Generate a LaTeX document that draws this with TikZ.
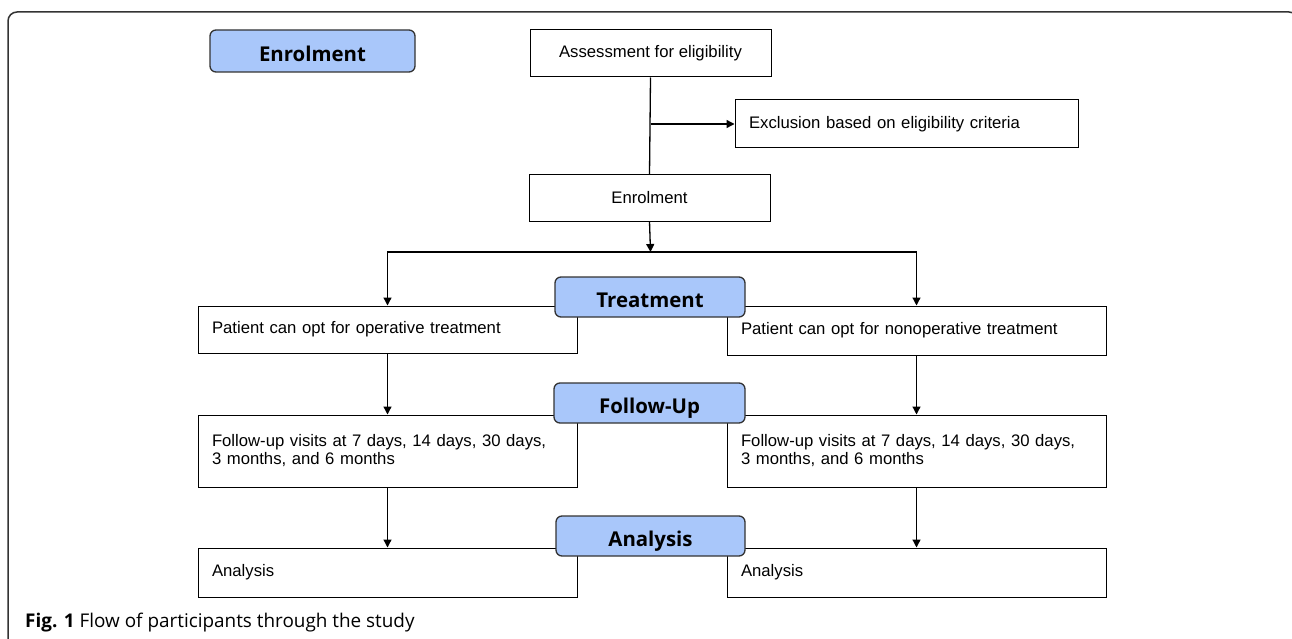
\documentclass[tikz,border=0pt]{standalone}
\usepackage{fontspec}
\setmainfont{Liberation Sans}
\newfontfamily\labelfont{Open Sans}
\usetikzlibrary{arrows.meta}
\definecolor{labelblue}{HTML}{A9C7FA}
\definecolor{framegray}{HTML}{333333}
\tikzset{
  flowbox/.style={draw=black, line width=1pt, fill=white, inner sep=0pt,
    font=\fontsize{16.7}{18}\selectfont, anchor=center},
  leftbox/.style={flowbox, align=left, inner xsep=14pt, anchor=center},
  stagelabel/.style={draw=framegray, line width=1.3pt, fill=labelblue, rounded corners=6pt,
    font=\labelfont\bfseries\fontsize{20.4}{24}\selectfont, inner sep=0pt,
    text height=20.5pt, text depth=0pt, anchor=center},
  arr/.style={line width=1.3pt, -{Triangle[length=8pt,width=8pt]}},
  plain/.style={line width=1.3pt},
}
\begin{document}
\begin{tikzpicture}[x=1pt,y=-1pt]
\useasboundingbox (0,0) rectangle (1292,639);
\begin{scope}
\clip (0,0) rectangle (1292,639);
\draw[framegray, line width=1.5pt, rounded corners=9pt] (8,700) -- (8,12) -- (1298,12) -- (1298,700);
\end{scope}

% boxes
\node[flowbox, minimum width=241pt, minimum height=47pt] (assess) at (650.5,53.5) {Assessment for eligibility};
\node[leftbox, minimum width=343pt, minimum height=48pt, text width=315pt] (excl) at (906.5,124) {Exclusion based on eligibility criteria};
\node[flowbox, minimum width=241pt, minimum height=46pt] (enrol) at (649.5,198) {Enrolment};

\node[leftbox, minimum width=379pt, minimum height=47pt, text width=351pt] (op) at (387.5,329.5) {Patient can opt for operative treatment};
\node[leftbox, minimum width=379pt, minimum height=49pt, text width=351pt] (nonop) at (916.5,330.5) {Patient can opt for nonoperative treatment};

\node[leftbox, minimum width=379pt, minimum height=72pt, text width=351pt] (fuL) at (387.5,451) {Follow-up visits at 7 days, 14 days, 30 days,\\3 months, and 6 months};
\node[leftbox, minimum width=379pt, minimum height=72pt, text width=351pt] (fuR) at (916.5,451) {Follow-up visits at 7 days, 14 days, 30 days,\\3 months, and 6 months};

\node[leftbox, minimum width=379pt, minimum height=49pt, text width=351pt] (anL) at (387.5,572.5) {Analysis};
\node[leftbox, minimum width=379pt, minimum height=49pt, text width=351pt] (anR) at (916.5,572.5) {Analysis};

% connectors
\draw[plain] (assess.south) -- (enrol.north);
\draw[arr] (assess.south |- excl.west) -- (excl.west);
\coordinate (split) at (650.5,252);
\draw[arr] (enrol.south) -- (split);
\draw[arr] (split) -| (op.north);
\draw[arr] (split) -| (nonop.north);
\draw[arr] (op.south) -- (fuL.north);
\draw[arr] (nonop.south) -- (fuR.north);
\draw[arr] (fuL.south) -- (anL.north);
\draw[arr] (fuR.south) -- (anR.north);

% stage labels
\node[stagelabel, minimum width=205pt, minimum height=42pt] (lEnrol) at (312.5,51) {Enrolment};
\node[stagelabel, minimum width=190pt, minimum height=40pt] (lTreat) at (650,297) {Treatment};
\node[stagelabel, minimum width=191pt, minimum height=40pt] (lFollow) at (649.5,403) {Follow-Up};
\node[stagelabel, minimum width=189pt, minimum height=40pt] (lAnal) at (650.5,536) {Analysis};

% caption
\node[anchor=base west, inner sep=0pt, font=\labelfont\fontsize{18.9}{22}\selectfont] (cap) at (25,627) {\textbf{Fig. 1} Flow of participants through the study};
\end{tikzpicture}
\end{document}
